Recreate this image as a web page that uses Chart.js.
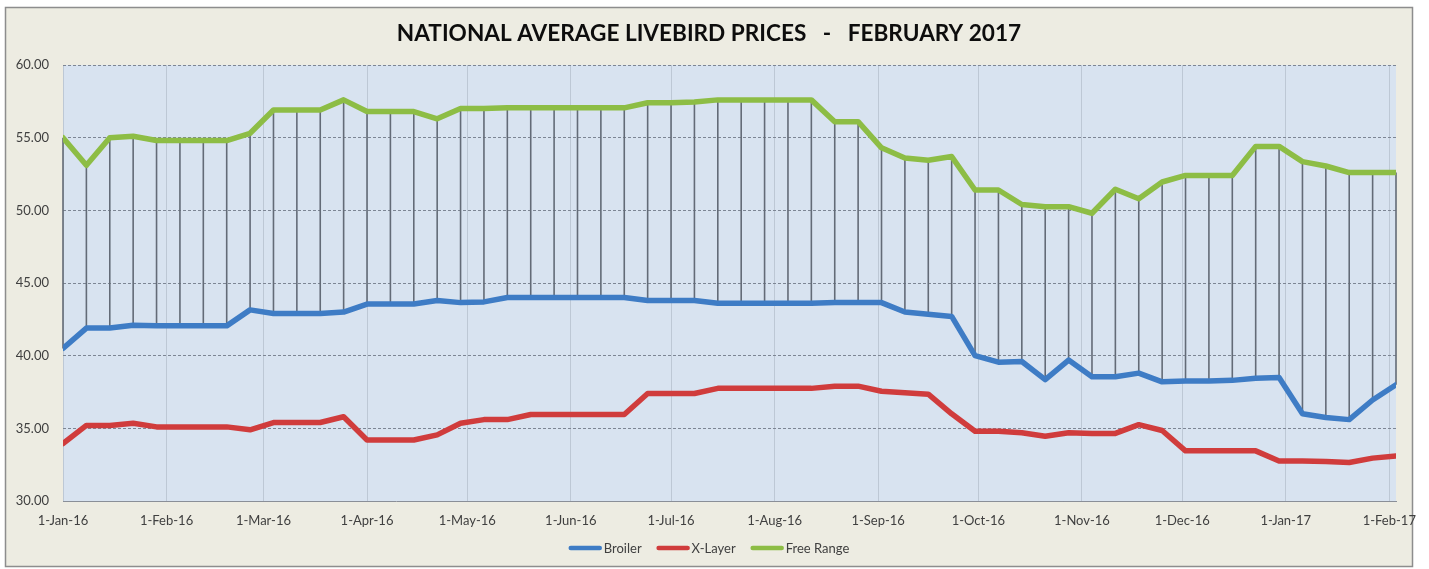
<!DOCTYPE html>
<html>
<head>
<meta charset="utf-8">
<script src="https://cdn.jsdelivr.net/npm/chart.js@4.4.1/dist/chart.umd.min.js"></script>
<style>
  html, body { margin: 0; padding: 0; background: #ffffff; }
  #wrap { position: relative; width: 1429px; height: 569px; }
  canvas { display: block; }
</style>
</head>
<body>
<div id="wrap"><canvas id="c" width="1429" height="569"></canvas></div>
<script>
// ---- Data ----
const chartTitle = 'NATIONAL AVERAGE LIVEBIRD PRICES   -   FEBRUARY 2017';
const seriesNames = ['Broiler', 'X-Layer', 'Free Range'];

const weekDates = [
  '2016-01-01','2016-01-08','2016-01-15','2016-01-22','2016-01-29',
  '2016-02-05','2016-02-12','2016-02-19','2016-02-26',
  '2016-03-04','2016-03-11','2016-03-18','2016-03-25',
  '2016-04-01','2016-04-08','2016-04-15','2016-04-22','2016-04-29',
  '2016-05-06','2016-05-13','2016-05-20','2016-05-27',
  '2016-06-03','2016-06-10','2016-06-17','2016-06-24',
  '2016-07-01','2016-07-08','2016-07-15','2016-07-22','2016-07-29',
  '2016-08-05','2016-08-12','2016-08-19','2016-08-26',
  '2016-09-02','2016-09-09','2016-09-16','2016-09-23','2016-09-30',
  '2016-10-07','2016-10-14','2016-10-21','2016-10-28',
  '2016-11-04','2016-11-11','2016-11-18','2016-11-25',
  '2016-12-02','2016-12-09','2016-12-16','2016-12-23','2016-12-30',
  '2017-01-06','2017-01-13','2017-01-20','2017-01-27',
  '2017-02-03'
];

const broiler = [
  40.5, 41.9, 41.9, 42.1, 42.05, 42.05, 42.05, 42.05, 43.15,
  42.9, 42.9, 42.9, 43.0,
  43.55, 43.55, 43.55, 43.8, 43.65,
  43.7, 44.0, 44.0, 44.0,
  44.0, 44.0, 44.0, 43.8,
  43.8, 43.8, 43.6, 43.6, 43.6,
  43.6, 43.6, 43.65, 43.65,
  43.65, 43.0, 42.85, 42.7, 40.0,
  39.55, 39.6, 38.35, 39.7,
  38.55, 38.55, 38.8, 38.2,
  38.25, 38.25, 38.3, 38.45, 38.5,
  36.0, 35.75, 35.6, 36.95,
  38.0
];

const xLayer = [
  33.95, 35.2, 35.2, 35.35, 35.1, 35.1, 35.1, 35.1, 34.9,
  35.4, 35.4, 35.4, 35.8,
  34.2, 34.2, 34.2, 34.55, 35.35,
  35.6, 35.6, 35.95, 35.95,
  35.95, 35.95, 35.95, 37.4,
  37.4, 37.4, 37.75, 37.75, 37.75,
  37.75, 37.75, 37.9, 37.9,
  37.55, 37.45, 37.35, 36.0, 34.8,
  34.8, 34.7, 34.45, 34.7,
  34.65, 34.65, 35.25, 34.85,
  33.45, 33.45, 33.45, 33.45, 32.75,
  32.75, 32.72, 32.65, 32.95,
  33.1
];

const freeRange = [
  55.0, 53.1, 55.0, 55.1, 54.8, 54.8, 54.8, 54.8, 55.3,
  56.9, 56.9, 56.9, 57.6,
  56.8, 56.8, 56.8, 56.3, 57.0,
  57.0, 57.05, 57.05, 57.05,
  57.05, 57.05, 57.05, 57.4,
  57.4, 57.45, 57.6, 57.6, 57.6,
  57.6, 57.6, 56.1, 56.1,
  54.3, 53.6, 53.45, 53.7, 51.4,
  51.4, 50.4, 50.25, 50.25,
  49.8, 51.45, 50.8, 51.95,
  52.4, 52.4, 52.4, 54.4, 54.4,
  53.35, 53.05, 52.6, 52.6,
  52.6
];

const monthStarts = [
  '2016-01-01','2016-02-01','2016-03-01','2016-04-01','2016-05-01','2016-06-01',
  '2016-07-01','2016-08-01','2016-09-01','2016-10-01','2016-11-01','2016-12-01',
  '2017-01-01','2017-02-01'
];
const monthLabels = [
  '1-Jan-16','1-Feb-16','1-Mar-16','1-Apr-16','1-May-16','1-Jun-16',
  '1-Jul-16','1-Aug-16','1-Sep-16','1-Oct-16','1-Nov-16','1-Dec-16',
  '1-Jan-17','1-Feb-17'
];
const yTicks = [30, 35, 40, 45, 50, 55, 60];

// ---- Helpers ----
function dayOffset(s) {
  const p = s.split('-').map(Number);
  return (Date.UTC(p[0], p[1] - 1, p[2]) - Date.UTC(2016, 0, 1)) / 86400000;
}
const xDays = weekDates.map(dayOffset);
const monthDays = monthStarts.map(dayOffset);
const toPoints = arr => arr.map((v, i) => ({ x: xDays[i], y: v }));

const COLORS = { broiler: '#3e7cc5', xlayer: '#d03c3c', free: '#8dbd45' };
const FONT = 'Lato, "Open Sans", sans-serif';

// ---- Plugins ----
const frame = {
  id: 'frame',
  beforeDraw(chart) {
    const ctx = chart.ctx;
    ctx.save();
    ctx.fillStyle = '#ffffff';
    ctx.fillRect(0, 0, chart.width, chart.height);
    ctx.fillStyle = '#edece2';
    ctx.fillRect(5.5, 7.5, 1407, 559);
    ctx.strokeStyle = '#8d8d8d';
    ctx.lineWidth = 1.5;
    ctx.strokeRect(5.5, 7.5, 1407, 559);
    const a = chart.chartArea;
    ctx.fillStyle = '#d8e3f0';
    ctx.fillRect(a.left, a.top, a.right - a.left, a.bottom - a.top);
    ctx.restore();
  }
};

const dropLines = {
  id: 'dropLines',
  beforeDatasetsDraw(chart) {
    const ctx = chart.ctx, xs = chart.scales.x, ys = chart.scales.y;
    ctx.save();
    ctx.strokeStyle = '#636b77';
    ctx.lineWidth = 1.6;
    for (let i = 0; i < xDays.length; i++) {
      const x = xs.getPixelForValue(xDays[i]);
      const y1 = ys.getPixelForValue(freeRange[i]);
      const y2 = ys.getPixelForValue(broiler[i]);
      ctx.beginPath();
      ctx.moveTo(x, y1);
      ctx.lineTo(x, y2);
      ctx.stroke();
    }
    ctx.restore();
  }
};

const titleAndLegend = {
  id: 'titleAndLegend',
  afterDraw(chart) {
    const ctx = chart.ctx;
    ctx.save();
    // Title
    ctx.font = 'bold 22.6px ' + FONT;
    ctx.fillStyle = '#0d0d0d';
    ctx.textAlign = 'center';
    ctx.textBaseline = 'middle';
    ctx.fillText(chartTitle, 709, 34);
    // Legend
    const cols = [COLORS.broiler, COLORS.xlayer, COLORS.free];
    ctx.font = '13px ' + FONT;
    const sample = 33, gapText = 2, gapItem = 15;
    const widths = seriesNames.map(n => sample + gapText + ctx.measureText(n).width);
    const total = widths.reduce((a, b) => a + b, 0) + gapItem * (seriesNames.length - 1);
    let x = 709 - total / 2;
    const y = 548;
    ctx.textAlign = 'left';
    ctx.textBaseline = 'middle';
    seriesNames.forEach((n, i) => {
      ctx.strokeStyle = cols[i];
      ctx.lineWidth = 4.5;
      ctx.lineCap = 'round';
      ctx.beginPath();
      ctx.moveTo(x + 2, y);
      ctx.lineTo(x + sample - 2, y);
      ctx.stroke();
      ctx.fillStyle = '#404040';
      ctx.fillText(n, x + sample + gapText, y + 1);
      x += widths[i] + gapItem;
    });
    ctx.restore();
  }
};

// ---- Chart ----
const lineDs = (label, data, color) => ({
  label, data: toPoints(data),
  borderColor: color, backgroundColor: color,
  borderWidth: 5.5, pointRadius: 0, pointHoverRadius: 0,
  tension: 0, borderJoinStyle: 'round', borderCapStyle: 'round'
});

new Chart(document.getElementById('c'), {
  type: 'line',
  data: {
    datasets: [
      lineDs(seriesNames[0], broiler, COLORS.broiler),
      lineDs(seriesNames[1], xLayer, COLORS.xlayer),
      lineDs(seriesNames[2], freeRange, COLORS.free)
    ]
  },
  options: {
    responsive: false,
    animation: false,
    events: [],
    layout: { padding: { left: 5, right: 33, top: 65, bottom: 38 } },
    plugins: { legend: { display: false }, title: { display: false }, tooltip: { enabled: false } },
    scales: {
      x: {
        type: 'linear',
        min: 0,
        max: xDays[xDays.length - 1],
        afterBuildTicks(scale) { scale.ticks = monthDays.map(v => ({ value: v })); },
        afterFit(scale) { scale.height = 30; },
        ticks: {
          autoSkip: false,
          maxRotation: 0,
          padding: 12,
          color: '#404040',
          font: { family: FONT, size: 13 },
          callback(value) { const k = monthDays.indexOf(value); return k >= 0 ? monthLabels[k] : ''; }
        },
        grid: { color: 'rgba(120,130,145,0.28)', lineWidth: 1, drawTicks: false },
        border: { display: true, color: '#8a8f98', width: 1 }
      },
      y: {
        min: 30, max: 60,
        afterBuildTicks(scale) { scale.ticks = yTicks.map(v => ({ value: v })); },
        afterFit(scale) { scale.width = 58; },
        ticks: {
          padding: 14,
          color: '#404040',
          font: { family: FONT, size: 13 },
          callback(value) { return Number(value).toFixed(2); }
        },
        grid: { color: '#7d8694', lineWidth: 1, drawTicks: false },
        border: { display: false, dash: [3, 2] }
      }
    }
  },
  plugins: [frame, dropLines, titleAndLegend]
});
</script>
</body>
</html>
